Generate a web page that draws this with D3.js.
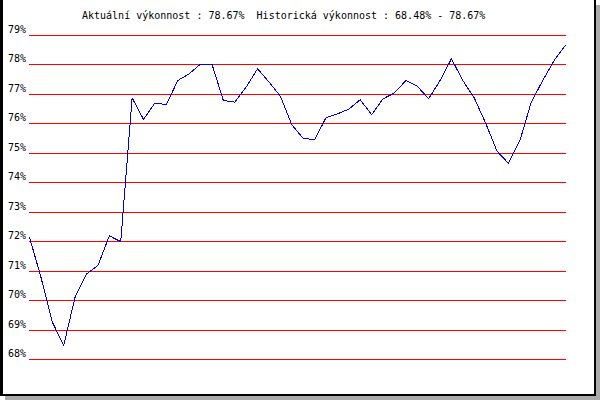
<!DOCTYPE html>
<html>
<head>
<meta charset="utf-8">
<script src="https://cdn.jsdelivr.net/npm/d3@7"></script>
<style>
  body { margin: 0; background: #fff; }
  text { font-family: "DejaVu Sans Mono", monospace; font-size: 10px; fill: #000; }
</style>
</head>
<body>
<svg width="600" height="400"></svg>
<script>
// performance history (%), one value per sample
var values = [72.15, 70.8, 69.27, 68.48, 70.12, 70.9, 71.19, 72.2, 72.0, 76.88,
  76.15, 76.71, 76.65, 77.47, 77.7, 78.03, 78.03, 76.79, 76.74, 77.25,
  77.87, 77.42, 76.94, 75.97, 75.51, 75.46, 76.21, 76.34, 76.5, 76.82,
  76.31, 76.85, 77.05, 77.47, 77.28, 76.85, 77.47, 78.21, 77.47, 76.88,
  76.02, 75.07, 74.66, 75.43, 76.74, 77.47, 78.15, 78.67];
var tickValues = [68, 69, 70, 71, 72, 73, 74, 75, 76, 77, 78, 79];
var tickLabels = ['68%', '69%', '70%', '71%', '72%', '73%', '74%', '75%', '76%', '77%', '78%', '79%'];
var title = 'Aktuální výkonnost : 78.67%  Historická výkonnost : 68.48% - 78.67%';

var svg = d3.select('svg');

var x = d3.scaleLinear().domain([0, values.length - 1]).range([29.5, 565.5]);
var y = d3.scaleLinear().domain([68, 79]).range([359.5, 35.5]);

// frame + shadow
svg.append('rect').attr('x', 596).attr('y', 5).attr('width', 4).attr('height', 395).attr('fill', '#aaaaaa');
svg.append('rect').attr('x', 5).attr('y', 396).attr('width', 595).attr('height', 4).attr('fill', '#aaaaaa');
svg.append('rect').attr('x', 0).attr('y', 0).attr('width', 3).attr('height', 396).attr('fill', '#000');
svg.append('rect').attr('x', 594).attr('y', 0).attr('width', 2).attr('height', 396).attr('fill', '#000');
svg.append('rect').attr('x', 0).attr('y', 394).attr('width', 596).attr('height', 2).attr('fill', '#000');

// title
svg.append('text')
  .attr('x', 82)
  .attr('y', 19)
  .attr('xml:space', 'preserve')
  .style('white-space', 'pre')
  .text(title);

// grid lines
svg.append('g')
  .selectAll('line')
  .data(tickValues)
  .enter().append('line')
  .attr('x1', 29)
  .attr('x2', 566)
  .attr('y1', function(d) { return y(d); })
  .attr('y2', function(d) { return y(d); })
  .attr('stroke', '#ff0000')
  .attr('stroke-width', 1)
  .attr('shape-rendering', 'crispEdges');

// y labels
svg.append('g')
  .selectAll('text')
  .data(tickValues)
  .enter().append('text')
  .attr('x', 26)
  .attr('y', function(d) { return y(d) - 2.5; })
  .attr('text-anchor', 'end')
  .text(function(d, i) { return tickLabels[i]; });

// line
var line = d3.line()
  .x(function(d, i) { return x(i); })
  .y(function(d) { return y(d); });

svg.append('path')
  .datum(values)
  .attr('d', line)
  .attr('fill', 'none')
  .attr('stroke', '#0000dd')
  .attr('stroke-width', 1)
  .attr('shape-rendering', 'crispEdges');
</script>
</body>
</html>
